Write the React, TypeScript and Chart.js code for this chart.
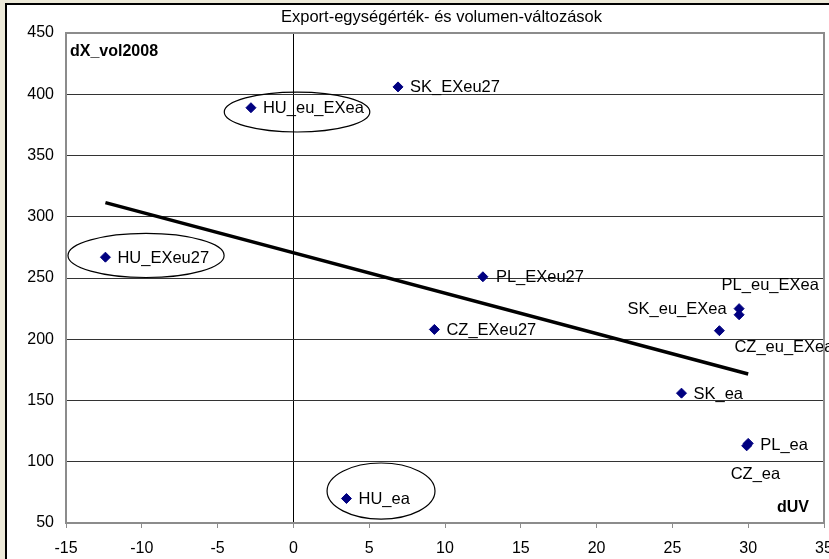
import React, { useEffect, useRef } from 'react';
import { Chart, registerables } from 'chart.js';

Chart.register(...registerables);

// ---- data ----
const chartTitle = 'Export-egységérték- és volumen-változások';
const xAxisName = 'dUV';
const yAxisName = 'dX_vol2008';

const pointNames = [
  'HU_eu_EXea',
  'SK_EXeu27',
  'HU_EXeu27',
  'PL_EXeu27',
  'CZ_EXeu27',
  'SK_eu_EXea',
  'PL_eu_EXea',
  'CZ_eu_EXea',
  'SK_ea',
  'PL_ea',
  'CZ_ea',
  'HU_ea',
];
const dUV = [-2.8, 6.9, -12.4, 12.5, 9.3, 29.4, 29.4, 28.1, 25.6, 30.0, 29.9, 3.5];
const dXvol = [389, 406, 267, 251, 208, 225, 220, 207, 156, 115, 113, 70];

// trend line end points
const trendX = [-12.4, 30.0];
const trendY = [311.5, 171.6];

// axis ranges
const xMin = -15;
const xMax = 35;
const xStep = 5;
const yMin = 50;
const yMax = 450;
const yStep = 50;

// highlighted (circled) groups, in data units
const ellipseCX = [0.24, -9.72, 5.78];
const ellipseCY = [385.5, 268.4, 76.1];
const ellipseRX = [4.8, 5.15, 3.56];
const ellipseRY = [16.3, 18, 22.9];

// label placement (pixel offsets relative to the marker)
const labelPlacement: { dx: number; dy: number; align: CanvasTextAlign }[] = [
  { dx: 12, dy: 0, align: 'left' },
  { dx: 12, dy: 0, align: 'left' },
  { dx: 12, dy: 0, align: 'left' },
  { dx: 13, dy: 0, align: 'left' },
  { dx: 12, dy: 0, align: 'left' },
  { dx: -12.5, dy: 0, align: 'right' },
  { dx: -17.5, dy: -30, align: 'left' },
  { dx: 15, dy: 16, align: 'left' },
  { dx: 12, dy: 0, align: 'left' },
  { dx: 12, dy: 1, align: 'left' },
  { dx: -16, dy: 28, align: 'left' },
  { dx: 12, dy: 0, align: 'left' },
];

const FONT = "'Liberation Sans', Arial, sans-serif";

const decorPlugin = {
  id: 'decor',
  beforeDraw(chart: any) {
    const { ctx, width, height } = chart;
    ctx.save();
    ctx.fillStyle = '#ECE9D8';
    ctx.fillRect(0, 0, width, height);
    ctx.fillStyle = '#FFFFFF';
    ctx.fillRect(7, 5, width - 7, height - 5);
    ctx.fillStyle = '#000000';
    ctx.fillRect(5, 3, width - 5, 2);
    ctx.fillRect(5, 3, 2, height - 3);
    ctx.restore();
  },
  afterDatasetsDraw(chart: any) {
    const { ctx, chartArea } = chart;
    const xs = chart.scales.x;
    const ys = chart.scales.y;
    ctx.save();

    // ellipses
    ctx.strokeStyle = '#000000';
    ctx.lineWidth = 1.2;
    for (let i = 0; i < ellipseCX.length; i++) {
      const cx = xs.getPixelForValue(ellipseCX[i]);
      const cy = ys.getPixelForValue(ellipseCY[i]);
      const rx = Math.abs(xs.getPixelForValue(ellipseCX[i] + ellipseRX[i]) - cx);
      const ry = Math.abs(ys.getPixelForValue(ellipseCY[i] + ellipseRY[i]) - cy);
      ctx.beginPath();
      ctx.ellipse(cx, cy, rx, ry, 0, 0, Math.PI * 2);
      ctx.stroke();
    }

    // point labels
    ctx.fillStyle = '#000000';
    ctx.font = `16.5px ${FONT}`;
    ctx.textBaseline = 'alphabetic';
    for (let i = 0; i < pointNames.length; i++) {
      const px = xs.getPixelForValue(dUV[i]);
      const py = ys.getPixelForValue(dXvol[i]);
      const p = labelPlacement[i];
      ctx.textAlign = p.align;
      ctx.fillText(pointNames[i], px + p.dx, py + p.dy + 5.5);
    }

    // plot area border
    ctx.strokeStyle = '#8C8C8C';
    ctx.lineWidth = 2;
    ctx.strokeRect(chartArea.left, chartArea.top, chartArea.right - chartArea.left, chartArea.bottom - chartArea.top);

    // title
    ctx.fillStyle = '#000000';
    ctx.font = `16.5px ${FONT}`;
    ctx.textAlign = 'center';
    ctx.fillText(chartTitle, 441.5, 22);

    // axis names
    ctx.font = `bold 16px ${FONT}`;
    ctx.textAlign = 'left';
    ctx.fillText(yAxisName, chartArea.left + 4, chartArea.top + 23);
    ctx.textAlign = 'right';
    ctx.fillText(xAxisName, chartArea.right - 15, chartArea.bottom - 11);
    ctx.restore();
  },
};

export default function App() {
  const canvasRef = useRef<HTMLCanvasElement | null>(null);

  useEffect(() => {
    document.body.style.margin = '0';
    const canvas = canvasRef.current;
    if (!canvas) return;

    const points = dUV.map((x, i) => ({ x, y: dXvol[i] }));
    const trend = trendX.map((x, i) => ({ x, y: trendY[i] }));

    const chart = new Chart(canvas, {
      type: 'scatter',
      data: {
        datasets: [
          {
            label: 'trend',
            type: 'line',
            data: trend,
            borderColor: '#000000',
            borderWidth: 3.5,
            pointRadius: 0,
            fill: false,
            order: 2,
          } as any,
          {
            label: 'points',
            data: points,
            pointStyle: 'rectRot',
            pointRadius: 5,
            backgroundColor: '#000080',
            borderColor: '#000080',
            borderWidth: 1,
            order: 1,
          },
        ],
      },
      options: {
        responsive: false,
        animation: false,
        events: [],
        layout: {
          autoPadding: false,
          padding: { top: 33, right: 5, left: 0, bottom: 0 },
        } as any,
        plugins: {
          legend: { display: false },
          title: { display: false },
          tooltip: { enabled: false },
        },
        scales: {
          x: {
            type: 'linear',
            min: xMin,
            max: xMax,
            afterFit: (scale: any) => {
              scale.height = 36;
              scale.paddingLeft = 0;
              scale.paddingRight = 0;
            },
            ticks: {
              stepSize: xStep,
              color: '#000000',
              font: { family: FONT, size: 16 },
              padding: 11,
              maxRotation: 0,
              autoSkip: false,
            },
            grid: {
              drawOnChartArea: true,
              drawTicks: true,
              tickLength: 5,
              tickColor: '#8C8C8C',
              lineWidth: 1,
              color: (c: any) => (c.tick && c.tick.value === 0 ? '#000000' : 'rgba(0,0,0,0)'),
            },
            border: { display: false },
          },
          y: {
            type: 'linear',
            min: yMin,
            max: yMax,
            afterFit: (scale: any) => {
              scale.width = 66;
              scale.paddingTop = 0;
              scale.paddingBottom = 0;
            },
            ticks: {
              stepSize: yStep,
              color: '#000000',
              font: { family: FONT, size: 16 },
              padding: 12,
            },
            grid: {
              drawTicks: false,
              color: '#333333',
              lineWidth: 1,
            },
            border: { display: false },
          },
        },
      },
      plugins: [decorPlugin],
    });

    return () => {
      chart.destroy();
    };
  }, []);

  return (
    <div style={{ position: 'absolute', left: 0, top: 0, width: 829, height: 559, overflow: 'hidden' }}>
      <canvas ref={canvasRef} width={829} height={559} style={{ display: 'block', width: 829, height: 559 }} />
    </div>
  );
}
